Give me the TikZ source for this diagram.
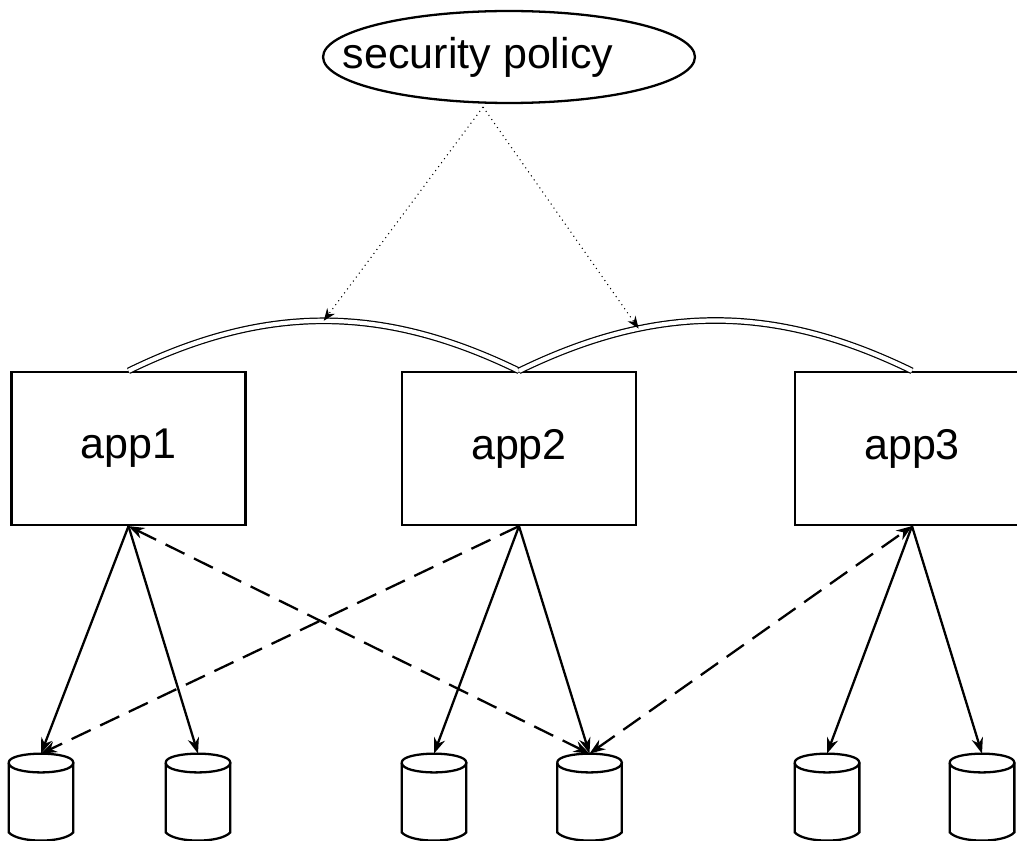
\documentclass[tikz,border=0pt]{standalone}
\usepackage{fontspec}
\setmainfont{Liberation Sans}
\usetikzlibrary{calc,shapes.geometric,arrows.meta}

\tikzset{
  app/.style={rectangle,draw,line width=1.3pt,minimum width=4.68cm,minimum height=3.06cm,font=\fontsize{24.5}{28}\selectfont},
  store/.style={rectangle,inner sep=0pt,minimum width=1.28cm,minimum height=1.76cm},
  link/.style={line width=1.3pt},
  share/.style={line width=1.3pt,dash pattern=on 12pt off 6pt},
  bind/.style={double,line width=0.7pt,double distance=2.4pt},
  rule/.style={line width=0.6pt,dash pattern=on 0.6pt off 2.2pt,-{Stealth[length=7pt,width=5.5pt]}}
}

\begin{document}
\begin{tikzpicture}[x=0.02cm,y=-0.02cm,>={Stealth[length=9pt,width=6.5pt]}]
    \useasboundingbox (0,0) rectangle (1017,841);
    \clip (0,0) rectangle (1017,841);

    \node[ellipse,draw,line width=1.3pt,minimum width=7.44cm,minimum height=1.84cm,
          label={[xshift=-0.62cm,font=\fontsize{24.5}{28}\selectfont]center:security policy}] (policy) at (509,57) {};
    \coordinate (polfoot) at (483,107);

    \node[app] (app1) at (128.5,448.5) {app1};
    \node[app] (app2) at (519,448.5) {app2};
    \node[app] (app3) at (912,448.5) {app3};

    \node[store] (d1) at (41,798) {};
    \node[store] (d2) at (198,798) {};
    \node[store] (d3) at (434,798) {};
    \node[store] (d4) at (589.5,798) {};
    \node[store] (d5) at (827,798) {};
    \node[store] (d6) at (982,798) {};

    % disk outlines
    \foreach \d in {d1,d2,d3,d4,d5,d6} {
        \draw[link] ($(\d.north west)+(0,9)$) .. controls +(0,-12) and +(0,-12) .. ($(\d.north east)+(0,9)$)
              .. controls +(0,13) and +(0,13) .. ($(\d.north west)+(0,9)$);
        \draw[link] ($(\d.north west)+(0,9)$) -- ($(\d.south west)+(0,-10)$)
              .. controls +(10,11) and +(-10,11) .. ($(\d.south east)+(0,-10)$) -- ($(\d.north east)+(0,9)$);
    }

    \draw[bind] (app1.north) to[bend left=26] coordinate[pos=0.5] (seal1) (app2.north);
    \draw[bind] (app2.north) to[bend left=26] coordinate[pos=0.3] (seal2) (app3.north);

    \draw[rule] (polfoot) -- (seal1);
    \draw[rule] (polfoot) -- (seal2);

    \draw[link,->] (app1.south) -- (d1.north);
    \draw[link,->] (app1.south) -- (d2.north);
    \draw[link,->] (app2.south) -- (d3.north);
    \draw[link,->] (app2.south) -- (d4.north);
    \draw[link,->] (app3.south) -- (d5.north);
    \draw[link,->] (app3.south) -- (d6.north);

    \draw[share,->] (app2.south) -- (d1.north);
    \draw[share,<->] (app1.south) -- (d4.north);
    \draw[share,<->] (d4.north) -- (app3.south);
\end{tikzpicture}
\end{document}
